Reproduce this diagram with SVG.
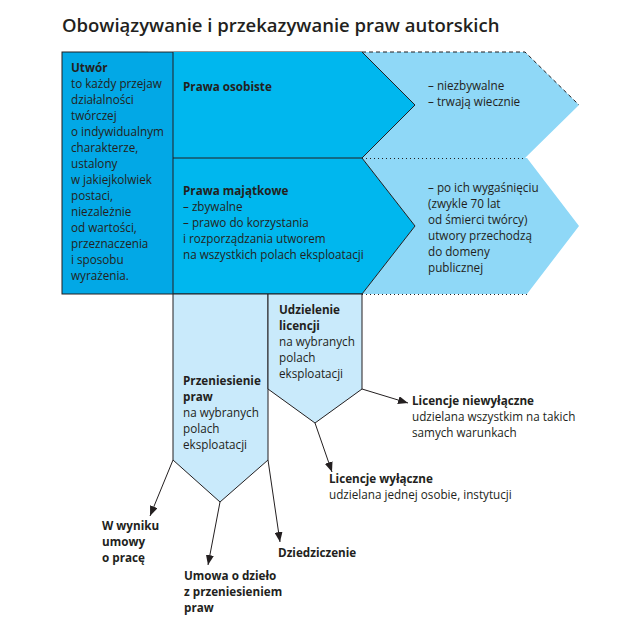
<svg xmlns="http://www.w3.org/2000/svg" width="638" height="626" viewBox="0 0 638 626">
<defs>
<style>
text{font-family:"Open Sans","Noto Sans","Liberation Sans",sans-serif;font-size:11.7px;fill:#231f20}
.b{font-weight:700}
.title{font-size:18.5px;font-weight:600}
.dark{fill:#00b7ee}
.left{fill:#02a8e6;stroke:#231f20;stroke-width:1}
.light{fill:#8fd8f7}
.pale{fill:#c9eafb;stroke:#231f20;stroke-width:1}
.ln{stroke:#231f20;stroke-width:1;fill:none}
.dot{stroke:#231f20;stroke-width:1;stroke-dasharray:1 3;fill:none}
.dash{stroke:#231f20;stroke-width:1;stroke-dasharray:4 3;fill:none}
.arr{stroke:#231f20;stroke-width:1;fill:none;marker-end:url(#ah)}
</style>
<marker id="ah" viewBox="0 0 10 8" refX="10" refY="4" markerWidth="10" markerHeight="8" markerUnits="userSpaceOnUse" orient="auto">
<path d="M0,0 L10,4 L0,8 z" fill="#231f20"/>
</marker>
</defs>
<rect width="638" height="626" fill="#fff"/>
<text class="title" x="62" y="32">Obowiązywanie i przekazywanie praw autorskich</text>

<g id="osobiste-cechy">
<polygon class="light" points="362,52 525,52 579,105 525,158 362,158 415,105"/>
<path class="dash" d="M362,52 H525 L579,105"/>
<text x="428" y="90">– niezbywalne</text>
<text x="428" y="106">– trwają wiecznie</text>
</g>
<g id="majatkowe-cechy">
<polygon class="light" points="362,158 527,158 579,226 527,294 362,294 415,226"/>
<text x="428" y="192">– po ich wygaśnięciu</text>
<text x="428" y="208">(zwykle 70 lat</text>
<text x="428" y="224">od śmierci twórcy)</text>
<text x="428" y="240">utwory przechodzą</text>
<text x="428" y="256">do domeny</text>
<text x="428" y="272">publicznej</text>
</g>
<g id="prawa-osobiste">
<polygon class="dark" points="173,52 362,52 415,105 362,158 173,158"/>
<text class="b" x="183" y="91">Prawa osobiste</text>
</g>
<g id="prawa-majatkowe">
<polygon class="dark" points="173,158 362,158 415,226 362,294 173,294"/>
<text class="b" x="183" y="195">Prawa majątkowe</text>
<text x="183" y="211">– zbywalne</text>
<text x="183" y="227">– prawo do korzystania</text>
<text x="183" y="243">i rozporządzania utworem</text>
<text x="183" y="259">na wszystkich polach eksploatacji</text>
</g>
<g id="utwor">
<rect class="left" x="62" y="52" width="111" height="242"/>
<text class="b" x="71" y="72">Utwór</text>
<text x="71" y="88">to każdy przejaw</text>
<text x="71" y="104">działalności</text>
<text x="71" y="120">twórczej</text>
<text x="71" y="136">o indywidualnym</text>
<text x="71" y="152">charakterze,</text>
<text x="71" y="168">ustalony</text>
<text x="71" y="184">w jakiejkolwiek</text>
<text x="71" y="200">postaci,</text>
<text x="71" y="216">niezależnie</text>
<text x="71" y="232">od wartości,</text>
<text x="71" y="248">przeznaczenia</text>
<text x="71" y="264">i sposobu</text>
<text x="71" y="280">wyrażenia.</text>
</g>
<g id="frame-lines">
<line x1="148" y1="51.5" x2="362" y2="51.5" stroke="#9a9a9a" stroke-width="1"/>
<path class="ln" d="M173,158 H362 M362,52 L415,105 L362,158 L415,226 L362,294 M173,294 H362"/>
<path class="dot" d="M362,158.5 H525 M362,294.5 H527"/>
</g>
<g id="przeniesienie">
<polygon class="pale" points="173,294 268,294 268,460 220,502 173,460"/>
<text class="b" x="183" y="385">Przeniesienie</text>
<text class="b" x="183" y="401">praw</text>
<text x="183" y="417">na wybranych</text>
<text x="183" y="433">polach</text>
<text x="183" y="449">eksploatacji</text>
</g>
<g id="udzielenie">
<polygon class="pale" points="268,294 362,294 362,389 315,423 268,389"/>
<text class="b" x="279" y="314">Udzielenie</text>
<text class="b" x="279" y="330">licencji</text>
<text x="279" y="346">na wybranych</text>
<text x="279" y="362">polach</text>
<text x="279" y="378">eksploatacji</text>
</g>
<g id="connectors">
<line class="arr" x1="362" y1="389" x2="408" y2="403"/>
<line class="arr" x1="315" y1="423" x2="332" y2="472"/>
<line class="arr" x1="173" y1="460" x2="150" y2="516"/>
<line class="arr" x1="220" y1="502" x2="208" y2="565"/>
<line class="arr" x1="268" y1="460" x2="280" y2="542"/>
</g>
<g id="licencje-niewylaczne">
<text class="b" x="412" y="405">Licencje niewyłączne</text>
<text x="412" y="421">udzielana wszystkim na takich</text>
<text x="412" y="437">samych warunkach</text>
</g>
<g id="licencje-wylaczne">
<text class="b" x="329" y="483">Licencje wyłączne</text>
<text x="329" y="499">udzielana jednej osobie, instytucji</text>
</g>
<g id="umowa-o-prace">
<text class="b" x="102" y="530">W wyniku</text>
<text class="b" x="102" y="546">umowy</text>
<text class="b" x="102" y="562">o pracę</text>
</g>
<g id="dziedziczenie">
<text class="b" x="278" y="557">Dziedziczenie</text>
</g>
<g id="umowa-o-dzielo">
<text class="b" x="184" y="580">Umowa o dzieło</text>
<text class="b" x="184" y="596">z przeniesieniem</text>
<text class="b" x="184" y="612">praw</text>
</g>
</svg>
